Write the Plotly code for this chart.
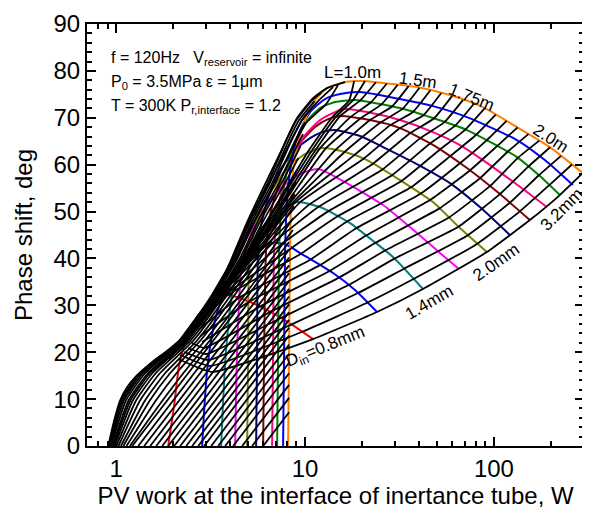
import math
import plotly.graph_objects as go

FONT = "Liberation Sans, Arial, sans-serif"

# ---------------- constant inner-diameter curves (PV work W, phase deg) ----------------
d08_x = [1.884, 2.027, 2.154, 2.346, 2.650, 3.143, 3.866, 4.814, 6.295, 8.130, 11.023]
d08_y = [0, 8.74, 17.27, 22.60, 27.29, 30.70, 32.20, 31.13, 29.00, 26.44, 22.81]
d11_x = [2.851, 2.921, 3.030, 3.182, 3.423, 3.773, 4.314, 5.117, 6.529, 7.838, 9.409, 14.064, 18.386, 24.042]
d11_y = [0, 7.68, 16.20, 22.60, 28.57, 32.84, 36.89, 40.73, 43.28, 43.07, 41.15, 36.89, 33.26, 28.57]
d14_x = [3.594, 3.682, 3.819, 4.060, 4.421, 4.994, 5.923, 7.197, 9.071, 12.004, 17.300, 22.622, 29.215, 42.105]
d14_y = [0, 9.81, 20.47, 31.13, 37.10, 41.79, 46.48, 49.89, 52.03, 50.96, 47.55, 43.92, 40.30, 33.48]
d17_x = [4.262, 4.367, 4.586, 4.933, 5.505, 6.372, 7.649, 9.409, 11.716, 15.888, 25.864, 39.138, 51.795, 65.29]
d17_y = [0, 20.47, 37.53, 42.86, 47.76, 51.81, 55.44, 58.00, 59.06, 56.50, 51.39, 45.42, 41.15, 37.74]
d20_x = [4.933, 4.994, 5.055, 5.307, 5.780, 6.690, 8.031, 10.000, 12.300, 16.280, 21.284, 31.816, 47.561, 66.085, 91.822]
d20_y = [0, 20.47, 39.66, 44.99, 49.89, 54.58, 59.28, 62.26, 63.54, 62.69, 60.98, 56.72, 52.03, 46.48, 41.36]
d22_x = [5.505, 5.572, 5.641, 5.923, 6.450, 7.375, 8.853, 10.628, 12.300, 14.410, 19.544, 25.864, 38.196, 58.510, 84.318, 121.51]
d22_y = [0, 20.47, 41.79, 48.19, 53.52, 58.85, 63.11, 65.67, 66.95, 67.38, 66.10, 63.75, 60.34, 56.08, 50.96, 44.99]
d24_x = [5.995, 6.069, 6.218, 6.529, 7.110, 8.031, 9.409, 11.295, 13.233, 15.318, 22.077, 31.816, 48.735, 71.967, 107.58, 155.05]
d24_y = [0, 20.47, 41.79, 49.25, 54.58, 59.91, 64.61, 68.02, 69.72, 70.36, 69.51, 67.80, 63.97, 59.28, 53.73, 48.19]
d26_x = [6.690, 6.771, 6.854, 7.110, 7.649, 8.535, 10.000, 12.004, 14.410, 16.280, 21.284, 31.816, 47.561, 66.085, 87.455, 129.14, 190.73]
d26_y = [0, 20.47, 41.79, 49.25, 55.65, 61.41, 66.31, 69.51, 71.22, 71.86, 71.22, 69.51, 66.95, 64.18, 60.98, 56.08, 50.96]
d28_x = [7.110, 7.197, 7.285, 7.466, 7.934, 8.745, 10.122, 12.004, 14.410, 18.386, 31.816, 47.561, 71.967, 132.33, 175.14, 223.47]
d28_y = [0, 20.47, 41.79, 50.32, 57.78, 64.18, 69.08, 72.07, 73.35, 73.77, 72.07, 69.94, 67.38, 61.62, 57.57, 53.52]
d30_x = [7.649, 7.743, 7.838, 8.031, 8.432, 9.183, 10.628, 12.758, 15.318, 19.544, 31.816, 47.561, 71.967, 132.33, 186.14, 261.81]
d30_y = [0, 20.47, 41.79, 52.45, 59.91, 66.31, 71.22, 73.99, 75.05, 75.48, 73.99, 72.49, 70.15, 65.25, 60.98, 55.65]
d32_x = [8.130, 8.230, 8.330, 8.432, 8.640, 9.071, 10.000, 11.295, 13.072, 16.280, 18.386, 20.771, 25.864, 39.138, 58.510, 87.455, 132.33, 197.83, 295.74]
d32_y = [0, 20.47, 41.79, 52.45, 58.85, 64.18, 69.51, 73.77, 76.33, 77.61, 77.83, 77.83, 77.40, 76.55, 74.84, 72.28, 68.02, 63.75, 58.21]

d_colors = ["#FF0000", "#0000FF", "#008080", "#FF00FF", "#808000", "#000080",
            "#800000", "#FF0080", "#008000", "#0000FF", "#FF8000"]
d_curves_x = [d08_x, d11_x, d14_x, d17_x, d20_x, d22_x, d24_x, d26_x, d28_x, d30_x, d32_x]
d_curves_y = [d08_y, d11_y, d14_y, d17_y, d20_y, d22_y, d24_y, d26_y, d28_y, d30_y, d32_y]

# ---------------- short tubes: constant-L lines from zero phase to D=3.2mm ----------------
a_x0 = [5.995, 5.243, 4.642, 4.159, 3.773, 3.465, 3.182, 2.921, 2.716, 2.524,
        2.346, 2.181, 2.027, 1.884, 1.751, 1.628, 1.513, 1.406, 1.307, 1.215]
a_y1 = [7.21, 10.26, 13.03, 15.52, 17.74, 19.68, 21.62, 23.56, 25.22, 26.89,
        28.55, 30.21, 31.88, 33.54, 35.20, 36.87, 38.53, 40.19, 41.85, 43.52]
A_Y0 = 0.0
A_END_X = 8.23

# ---------------- medium tubes: sampled at common phase levels ----------------
m_levels = [0, 9.81, 15.57, 22.60, 31.13, 39.66, 48.19, 56.72, 65.25, 69.51, 73.77]
m01_x = [1.1802, 1.7663, 2.2702, 3.1469, 4.5688, 6.5845]
m02_x = [1.1323, 1.6279, 2.0873, 2.9646, 4.2935, 6.1061]
m03_x = [1.0903, 1.5114, 1.9307, 2.8064, 4.0545, 5.6960, 7.7810]
m04_x = [1.0589, 1.4255, 1.8187, 2.6926, 3.8758, 5.3986, 7.2498]
m05_x = [1.0271, 1.3412, 1.7072, 2.5770, 3.7005, 5.0983, 6.7387]
m06_x = [1.0024, 1.2775, 1.6220, 2.4845, 3.5633, 4.8734, 6.3489, 8.4627]
m07_x = [0.9819, 1.2272, 1.5562, 2.4128, 3.4565, 4.6929, 6.0395, 7.9827]
m08_x = [0.9676, 1.1918, 1.5095, 2.3633, 3.3814, 4.5688, 5.8298, 7.6588]
m09_x = [0.9559, 1.1645, 1.4750, 2.3233, 3.3202, 4.4697, 5.6682, 7.4019, 9.3862]
m10_x = [0.9409, 1.1282, 1.4255, 2.2702, 3.2403, 4.3408, 5.4515, 7.0752, 8.8854]
m11_x = [0.9285, 1.0997, 1.3878, 2.2291, 3.1778, 4.2363, 5.2815, 6.8130, 8.4937, 9.6416]
m12_x = [0.9195, 1.0771, 1.3593, 2.1967, 3.1279, 4.1595, 5.1544, 6.6166, 8.1996, 9.2951]
m13_x = [0.9117, 1.0589, 1.3348, 2.1677, 3.0862, 4.0942, 5.0489, 6.4502, 7.9537, 8.9943, 10.930]
m_end_x = [8.6188, 8.6609, 8.7138, 8.8099, 8.9397, 9.071, 9.2162, 9.4666, 9.759, 10.000, 10.500, 11.227, 12.152]
m_end_y = [46.06, 48.61, 51.17, 53.73, 56.29, 58.85, 61.41, 63.97, 66.52, 69.08, 71.43, 73.56, 75.27]
m_lines_x = [m01_x, m02_x, m03_x, m04_x, m05_x, m06_x, m07_x, m08_x, m09_x, m10_x, m11_x, m12_x, m13_x]

# ---------------- envelope lines (around L = 1.0 m) ----------------
e1_x = [0.9073, 0.9759, 1.0499, 1.1433, 1.2605, 1.4237, 1.6479, 2.0025, 2.4634, 2.8861, 3.4228, 4.0103, 4.9331, 5.9953, 7.3749, 9.0711, 11.023, 13.072, 16.280]
e1_y = [0, 5.54, 9.81, 12.58, 14.71, 16.63, 18.76, 21.11, 24.09, 29.00, 33.26, 39.23, 47.76, 55.01, 62.47, 69.94, 74.20, 76.33, 77.61]
e2_x = [2.8861, 3.4228, 4.0596, 5.0550, 6.2184, 7.7430, 9.6416, 11.716, 14.064]
e2_y = [29.00, 33.05, 39.02, 47.55, 54.80, 62.26, 69.51, 73.56, 76.55]
e3_x = [3.4228, 4.1595, 5.2431, 6.5285, 8.1303, 10.122, 12.914, 14.947]
e3_y = [32.84, 38.59, 47.12, 54.37, 61.62, 68.87, 72.92, 76.97]

# ---------------- long tubes: constant-L lines from D=3.2mm down to small D ----------------
f00_x = [295.74, 223.47, 155.05, 91.82, 42.105, 24.042, 11.023, 3.2207, 2.1284]
f00_y = [58.21, 53.52, 48.19, 41.36, 33.48, 28.57, 22.81, 15.78, 18.55]
f01_x = [258.96, 196.64, 137.25, 81.79, 37.505, 21.414, 9.6766, 3.1431, 2.1807]
f01_y = [60.04, 55.65, 50.04, 43.16, 35.63, 30.60, 24.37, 17.06, 19.40]
f02_x = [226.76, 173.02, 121.51, 72.852, 33.404, 19.072, 8.4937, 3.0675, 2.2895]
f02_y = [61.88, 57.74, 51.88, 44.97, 37.80, 32.62, 25.93, 18.34, 20.04]
f03_x = [198.55, 152.23, 107.58, 64.895, 29.755, 16.990, 7.4562, 2.9935, 2.4040]
f03_y = [63.71, 59.59, 53.73, 46.78, 39.96, 34.33, 27.31, 19.62, 20.90]
f04_x = [173.87, 133.95, 95.244, 57.798, 26.502, 15.130, 6.5444, 2.921, 2.5242]
f04_y = [65.12, 61.45, 55.42, 48.74, 41.68, 35.91, 28.61, 20.90, 21.96]
f05_x = [152.23, 117.87, 84.318, 51.483, 23.608, 13.477, 5.7448, 2.851]
f05_y = [66.52, 62.71, 57.10, 50.68, 43.33, 37.33, 29.72, 22.17]
f06_x = [133.29, 103.72, 74.649, 45.855, 21.026, 12.004, 5.0427, 2.7826]
f06_y = [67.93, 63.92, 58.76, 52.45, 44.90, 38.57, 30.77, 23.45]
f07_x = [116.73, 91.267, 66.085, 40.843, 18.726, 10.693, 4.4263, 2.7157]
f07_y = [69.32, 65.14, 60.30, 53.80, 46.48, 39.79, 31.53, 24.73]
f08_x = [102.22, 80.31, 58.510, 36.381, 16.681, 9.5249, 3.8853, 2.6501]
f08_y = [70.68, 66.33, 61.77, 55.16, 47.89, 41.02, 32.17, 25.80]
f09_x = [89.506, 70.667, 51.795, 32.405, 14.856, 8.4838, 3.6960, 2.8270]
f09_y = [72.05, 67.48, 63.24, 56.50, 48.98, 42.24, 31.88, 25.48]
f10_x = [78.374, 62.184, 45.855, 28.863, 13.233, 7.5571, 3.5332, 2.7024]
f10_y = [72.99, 68.27, 64.52, 57.74, 50.04, 43.11, 31.56, 25.16]
f11_x = [68.629, 54.714, 40.595, 25.707, 11.788, 6.7304, 3.3774, 2.5833]
f11_y = [73.82, 69.06, 65.61, 58.98, 51.02, 43.24, 31.22, 24.82]
f12_x = [60.100, 48.143, 35.939, 22.898, 10.500, 6.3180, 3.2285, 2.4694]
f12_y = [74.67, 69.85, 66.72, 60.21, 51.47, 43.09, 30.90, 24.50]
f13_x = [52.622, 42.364, 31.816, 20.396, 9.3520, 6.0322, 3.1013, 2.3720]
f13_y = [75.29, 70.55, 67.80, 61.26, 51.92, 42.84, 30.45, 24.05]
f14_x = [46.079, 37.276, 28.167, 18.163, 8.7884, 5.7658, 3.0046, 2.2980]
f14_y = [75.86, 71.24, 68.38, 61.98, 51.79, 42.56, 29.81, 23.41]
f15_x = [40.350, 32.800, 24.936, 16.181, 8.4011, 5.5047, 2.9109, 2.2263]
f15_y = [76.42, 71.90, 68.94, 62.71, 51.47, 42.28, 29.17, 22.77]
f16_x = [35.331, 28.863, 22.077, 14.410, 8.031, 5.3008, 2.8201, 2.1571]
f16_y = [76.76, 72.41, 69.51, 63.05, 51.13, 41.77, 28.53, 22.13]
f17_x = [30.938, 25.396, 19.544, 12.836, 7.6775, 5.1230, 2.7289, 2.0873]
f17_y = [77.04, 72.86, 69.79, 63.41, 50.81, 41.15, 27.89, 21.49]
f18_x = [27.091, 22.349, 17.300, 11.947, 7.3387, 4.9454, 2.6470, 2.0246]
f18_y = [77.31, 73.31, 70.09, 63.43, 50.47, 40.55, 27.23, 20.83]
f19_x = [23.723, 19.663, 15.318, 11.406, 7.0234, 4.7795, 2.5927, 1.9832]
f19_y = [77.57, 73.75, 70.36, 63.22, 50.15, 39.96, 26.46, 20.06]
f20_x = [20.771, 17.944, 14.587, 10.877, 6.7304, 4.6192, 2.5427, 1.9449]
f20_y = [77.83, 73.77, 70.23, 63.03, 49.77, 39.36, 25.69, 19.30]
f21_x = [18.186, 17.093, 13.910, 10.373, 6.5134, 4.4806, 2.4845, 1.9049]
f21_y = [77.83, 73.62, 70.11, 62.81, 49.13, 38.70, 24.90, 18.51]
f_lines_x = [f00_x, f01_x, f02_x, f03_x, f04_x, f05_x, f06_x, f07_x, f08_x, f09_x, f10_x,
             f11_x, f12_x, f13_x, f14_x, f15_x, f16_x, f17_x, f18_x, f19_x, f20_x, f21_x]
f_lines_y = [f00_y, f01_y, f02_y, f03_y, f04_y, f05_y, f06_y, f07_y, f08_y, f09_y, f10_y,
             f11_y, f12_y, f13_y, f14_y, f15_y, f16_y, f17_y, f18_y, f19_y, f20_y, f21_y]

# ---------------- labels ----------------
lab_text = ["L=1.0m", "1.5m", "1.75m", "2.0m",
            "D<sub>in</sub>=0.8mm", "1.4mm", "2.0mm", "3.2mm"]
lab_x = [17.73, 39.62, 76.49, 200.26, 12.76, 45.30, 102.47, 229.0]
lab_y = [79.74, 78.04, 74.41, 65.67, 20.90, 30.70, 39.23, 50.4]
lab_angle = [0, 8, 22, 33, -22, -30, -35, -45]

info_text = ["f = 120Hz\u00a0\u00a0 V<sub>reservoir</sub> = infinite",
             "P<sub>0</sub> = 3.5MPa \u03b5 = 1\u03bcm",
             "T = 300K P<sub>r,interface</sub> = 1.2"]
info_x = 0.918
info_y = [82.7, 77.6, 72.3]

BLACK_W = 1.8
COLOR_W = 2.0

fig = go.Figure()

for xs, ys, col in zip(d_curves_x, d_curves_y, d_colors):
    fig.add_trace(go.Scatter(x=xs, y=ys, mode="lines",
                             line=dict(color=col, width=COLOR_W, shape="spline", smoothing=0.6),
                             hoverinfo="skip", showlegend=False))

for x0, y1 in zip(a_x0, a_y1):
    fig.add_trace(go.Scatter(x=[x0, A_END_X], y=[A_Y0, y1], mode="lines",
                             line=dict(color="black", width=BLACK_W),
                             hoverinfo="skip", showlegend=False))

for xs, ex, ey in zip(m_lines_x, m_end_x, m_end_y):
    fig.add_trace(go.Scatter(x=xs + [ex], y=m_levels[:len(xs)] + [ey], mode="lines",
                             line=dict(color="black", width=BLACK_W, shape="spline", smoothing=0.5),
                             hoverinfo="skip", showlegend=False))

for xs, ys in [(e1_x, e1_y), (e2_x, e2_y), (e3_x, e3_y)]:
    fig.add_trace(go.Scatter(x=xs, y=ys, mode="lines",
                             line=dict(color="black", width=BLACK_W, shape="spline", smoothing=0.5),
                             hoverinfo="skip", showlegend=False))

for xs, ys in zip(f_lines_x, f_lines_y):
    fig.add_trace(go.Scatter(x=xs, y=ys, mode="lines",
                             line=dict(color="black", width=BLACK_W, shape="spline", smoothing=0.4),
                             hoverinfo="skip", showlegend=False))

annotations = []
for t, x, y, a in zip(lab_text, lab_x, lab_y, lab_angle):
    annotations.append(dict(text=t, x=math.log10(x), y=y, xref="x", yref="y",
                            showarrow=False, textangle=a,
                            font=dict(family=FONT, size=17, color="black")))
for t, y in zip(info_text, info_y):
    annotations.append(dict(text=t, x=math.log10(info_x), y=y, xref="x", yref="y",
                            showarrow=False, xanchor="left",
                            font=dict(family=FONT, size=16, color="black")))

minor_x = [0.7, 0.8, 0.9, 2, 3, 4, 5, 6, 7, 8, 9, 20, 30, 40, 50, 60, 70, 80, 90, 200]

# the page adds an 8px body margin, so the figure is 8px smaller with 8px less left/top margin
fig.update_layout(
    width=582, height=509,
    margin=dict(l=79, r=6, t=16, b=71),
    paper_bgcolor="white", plot_bgcolor="white",
    showlegend=False,
    font=dict(family=FONT, size=24, color="black"),
    annotations=annotations,
    xaxis=dict(type="log", range=[math.log10(0.7), math.log10(300)],
               tickvals=[1, 10, 100], ticktext=["1", "10", "100"],
               ticks="inside", ticklen=9, tickwidth=2, tickcolor="black",
               minor=dict(tickvals=minor_x, ticks="inside", ticklen=5, tickwidth=1.5, tickcolor="black"),
               showline=True, linewidth=2, linecolor="black", mirror="ticks",
               showgrid=False, zeroline=False, automargin=False,
               tickfont=dict(family=FONT, size=24, color="black"),
               title=dict(text="PV work at the interface of inertance tube, W",
                          font=dict(family=FONT, size=24, color="black"), standoff=6)),
    yaxis=dict(range=[0, 90], tick0=0, dtick=10,
               ticks="inside", ticklen=9, tickwidth=2, tickcolor="black",
               minor=dict(dtick=2, ticks="inside", ticklen=5, tickwidth=1.5, tickcolor="black"),
               showline=True, linewidth=2, linecolor="black", mirror="ticks",
               showgrid=False, zeroline=False, automargin=False,
               tickfont=dict(family=FONT, size=24, color="black"),
               title=dict(text="Phase shift, deg",
                          font=dict(family=FONT, size=24, color="black"), standoff=14)),
)

fig.write_html("out.html")
